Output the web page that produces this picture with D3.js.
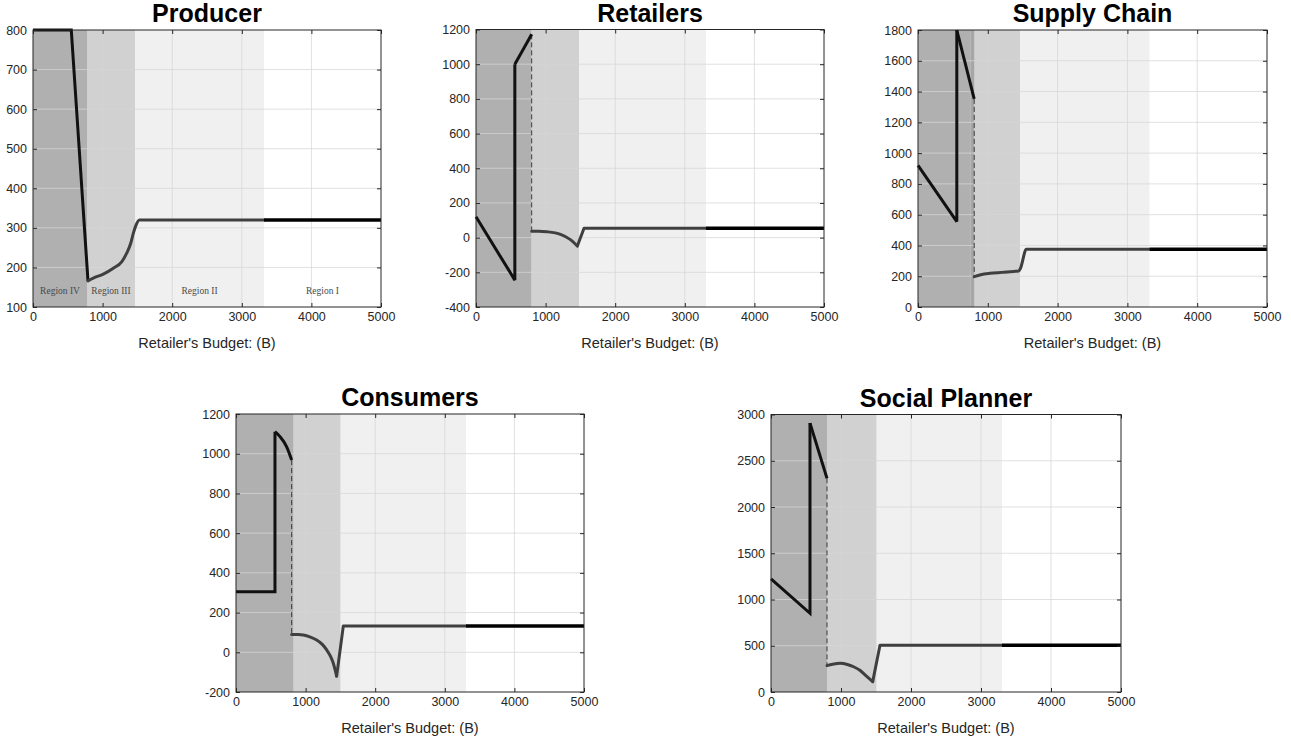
<!DOCTYPE html>
<html>
<head>
<meta charset="utf-8">
<script src="https://cdn.jsdelivr.net/npm/d3@7"></script>
<style>
  body { margin: 0; background: #ffffff; }
  svg { display: block; }
  text { font-family: "Liberation Sans", Arial, Helvetica, sans-serif; }
</style>
</head>
<body>
<svg id="chart" width="1291" height="740"></svg>
<script>
// ---------- shared axis data ----------
const budgetDomain = [0, 5000];
const budgetTicks = [0, 1000, 2000, 3000, 4000, 5000];
const regionNames = ["Region IV", "Region III", "Region II", "Region I"];
const xLabel = "Retailer's Budget: (B)";

// ---------- Producer ----------
const producerTicks = [100, 200, 300, 400, 500, 600, 700, 800];
const producerEdges = [776, 1466, 3319];
const producerIVBudget = [0, 550, 790];
const producerIVValue = [800, 800, 166];
const producerMidBudget = [790, 866, 1010, 1154, 1274, 1346, 1404, 1441, 1480, 1528, 3319];
const producerMidValue = [166, 173, 183, 198, 214, 236, 261, 286, 307, 320, 320];
const producerFinal = 320;

// ---------- Retailers ----------
const retailerTicks = [-400, -200, 0, 200, 400, 600, 800, 1000, 1200];
const retailerEdges = [800, 1480, 3305];
const retailerIVBudget = [0, 558, 558, 800];
const retailerIVValue = [120, -245, 1000, 1172];
const retailerMidBudget = [800, 900, 1016, 1214, 1351, 1456, 1552, 3305];
const retailerMidValue = [37, 37, 34, 19, -10, -48, 54, 54];
const retailerFinal = 54;

// ---------- Supply Chain ----------
const chainTicks = [0, 200, 400, 600, 800, 1000, 1200, 1400, 1600, 1800];
const chainEdges = [750, 1461, 3319];
const chainOverlap = [750, 805];
const chainIVBudget = [0, 556, 556, 805];
const chainIVValue = [920, 555, 1800, 1352];
const chainMidBudget = [805, 900, 1034, 1200, 1441, 1465, 1552, 3319];
const chainMidValue = [197, 210, 219, 225, 234, 248, 375, 375];
const chainFinal = 375;

// ---------- Consumers ----------
const consumerTicks = [-200, 0, 200, 400, 600, 800, 1000, 1200];
const consumerEdges = [829, 1504, 3305];
const consumerIVBudget = [0, 560, 560, 632, 728, 800];
const consumerIVValue = [305, 305, 1111, 1086, 1035, 968];
const consumerMidBudget = [800, 900, 967, 1060, 1159, 1240, 1303, 1360, 1398, 1446, 1542, 3305];
const consumerMidValue = [90, 90, 87, 78, 62, 40, 12, -22, -55, -120, 133, 133];
const consumerFinal = 133;

// ---------- Social Planner ----------
const plannerTicks = [0, 500, 1000, 1500, 2000, 2500, 3000];
const plannerEdges = [800, 1510, 3300];
const plannerIVBudget = [0, 557, 557, 800];
const plannerIVValue = [1222, 851, 2907, 2310];
const plannerMidBudget = [800, 880, 990, 1090, 1180, 1270, 1347, 1453, 1557, 3300];
const plannerMidValue = [285, 300, 310, 298, 273, 235, 183, 112, 505, 505];
const plannerFinal = 505;

// ---------- panel assembly ----------
const panels = [
  { title: "Producer", ticks: producerTicks, edges: producerEdges,
    ivB: producerIVBudget, ivV: producerIVValue, midB: producerMidBudget, midV: producerMidValue,
    final: producerFinal, labels: true, dashed: false },
  { title: "Retailers", ticks: retailerTicks, edges: retailerEdges,
    ivB: retailerIVBudget, ivV: retailerIVValue, midB: retailerMidBudget, midV: retailerMidValue,
    final: retailerFinal, dashed: true },
  { title: "Supply Chain", ticks: chainTicks, edges: chainEdges, overlap: chainOverlap,
    ivB: chainIVBudget, ivV: chainIVValue, midB: chainMidBudget, midV: chainMidValue,
    final: chainFinal, dashed: true },
  { title: "Consumers", ticks: consumerTicks, edges: consumerEdges,
    ivB: consumerIVBudget, ivV: consumerIVValue, midB: consumerMidBudget, midV: consumerMidValue,
    final: consumerFinal, dashed: true },
  { title: "Social Planner", ticks: plannerTicks, edges: plannerEdges,
    ivB: plannerIVBudget, ivV: plannerIVValue, midB: plannerMidBudget, midV: plannerMidValue,
    final: plannerFinal, dashed: true }
];

// axes frames on the page
const frames = [
  { left: 33,  top: 30,    width: 348, height: 277 },
  { left: 476, top: 29.5,  width: 348, height: 277.5 },
  { left: 918, top: 30,    width: 349, height: 277 },
  { left: 236, top: 414,   width: 348, height: 278 },
  { left: 771, top: 414.5, width: 350, height: 277.5 }
];

const regionFills = ["#b0b0b0", "#d1d1d1", "#f0f0f0", "#ffffff"];
const axisColor = "#262626";
const svg = d3.select("#chart");

panels.forEach((p, i) => {
  const f = frames[i];
  const g = svg.append("g").attr("transform", `translate(${f.left},${f.top})`);
  const x = d3.scaleLinear().domain(budgetDomain).range([0, f.width]);
  const y = d3.scaleLinear().domain(d3.extent(p.ticks)).range([f.height, 0]);

  // shaded regions
  const bounds = [budgetDomain[0], ...p.edges, budgetDomain[1]];
  regionFills.forEach((c, k) => {
    g.append("rect")
      .attr("x", x(bounds[k])).attr("y", 0)
      .attr("width", x(bounds[k + 1]) - x(bounds[k])).attr("height", f.height)
      .attr("fill", c);
  });
  if (p.overlap) {
    g.append("rect")
      .attr("x", x(p.overlap[0])).attr("y", 0)
      .attr("width", x(p.overlap[1]) - x(p.overlap[0])).attr("height", f.height)
      .attr("fill", "#a6a6a6");
  }

  // grid
  const grid = g.append("g").attr("stroke", "#d6d6d6").attr("stroke-opacity", 0.75).attr("stroke-width", 1);
  budgetTicks.slice(1, -1).forEach(t => {
    grid.append("line").attr("x1", x(t)).attr("x2", x(t)).attr("y1", 0).attr("y2", f.height);
  });
  p.ticks.slice(1, -1).forEach(t => {
    grid.append("line").attr("x1", 0).attr("x2", f.width).attr("y1", y(t)).attr("y2", y(t));
  });

  // region names
  if (p.labels) {
    regionNames.forEach((name, k) => {
      g.append("text")
        .attr("x", x((bounds[k] + bounds[k + 1]) / 2))
        .attr("y", y(138))
        .attr("text-anchor", "middle")
        .attr("dominant-baseline", "middle")
        .style("font-family", "'Liberation Serif', 'DejaVu Serif', serif")
        .style("font-size", "9.5px")
        .attr("fill", "#4a4a4a")
        .text(name);
    });
  }

  const straight = d3.line().x(d => x(d[0])).y(d => y(d[1]));
  const smooth = d3.line().x(d => x(d[0])).y(d => y(d[1])).curve(d3.curveMonotoneX);

  // dashed jump at the Region IV boundary
  if (p.dashed) {
    const bx = p.midB[0];
    g.append("line")
      .attr("x1", x(bx)).attr("x2", x(bx))
      .attr("y1", y(p.ivV[p.ivV.length - 1])).attr("y2", y(p.midV[0]))
      .attr("stroke", "#3a3a3a").attr("stroke-width", 1)
      .attr("stroke-dasharray", "5,3");
  }

  // Region IV branch: straight up to the vertical jump, smooth after it
  const ivPts = p.ivB.map((b, k) => [b, p.ivV[k]]);
  const jump = p.ivB.findIndex((b, k) => k > 0 && b === p.ivB[k - 1]);
  const ivParts = jump > 0
    ? [[ivPts.slice(0, jump + 1), straight], [ivPts.slice(jump), smooth]]
    : [[ivPts, straight]];
  ivParts.forEach(([pts, gen]) => {
    g.append("path")
      .datum(pts)
      .attr("d", gen).attr("fill", "none")
      .attr("stroke", "#111111").attr("stroke-width", 3)
      .attr("stroke-linejoin", "miter").attr("stroke-miterlimit", 2.5);
  });

  // Regions III and II branch: smooth descent to the kink, straight recovery after it
  const midPts = p.midB.map((b, k) => [b, p.midV[k]]);
  const kink = d3.minIndex(p.midV);
  const midParts = kink > 0 ? [[midPts.slice(0, kink + 1), smooth], [midPts.slice(kink), straight]] : [[midPts, smooth]];
  midParts.forEach(([pts, gen]) => {
    g.append("path")
      .datum(pts)
      .attr("d", gen).attr("fill", "none")
      .attr("stroke", "#3f3f3f").attr("stroke-width", 3)
      .attr("stroke-linecap", "round").attr("stroke-linejoin", "round");
  });

  // Region I branch
  g.append("path")
    .datum([[p.midB[p.midB.length - 1], p.final], [budgetDomain[1], p.final]])
    .attr("d", straight).attr("fill", "none")
    .attr("stroke", "#000000").attr("stroke-width", 3.5);

  // axes (ticks pointing inward on all four sides)
  const fmt = d => String(d);
  const bottom = g.append("g").attr("transform", `translate(0,${f.height})`)
    .call(d3.axisBottom(x).tickValues(budgetTicks).tickSizeInner(-4).tickSizeOuter(0).tickPadding(5).tickFormat(fmt));
  const left = g.append("g")
    .call(d3.axisLeft(y).tickValues(p.ticks).tickSizeInner(-4).tickSizeOuter(0).tickPadding(6).tickFormat(fmt));
  const top = g.append("g")
    .call(d3.axisTop(x).tickValues(budgetTicks).tickSizeInner(-4).tickSizeOuter(0).tickFormat(""));
  const right = g.append("g").attr("transform", `translate(${f.width},0)`)
    .call(d3.axisRight(y).tickValues(p.ticks).tickSizeInner(-4).tickSizeOuter(0).tickFormat(""));
  [bottom, left, top, right].forEach(a => {
    a.select(".domain").remove();
    a.selectAll("line").attr("stroke", axisColor);
    a.selectAll("text").attr("fill", axisColor).style("font-size", "12.5px")
      .style("font-family", "'Liberation Sans', Arial, Helvetica, sans-serif");
  });

  g.append("rect").attr("width", f.width).attr("height", f.height)
    .attr("fill", "none").attr("stroke", axisColor).attr("stroke-width", 1);

  // title and x label
  g.append("text")
    .attr("x", f.width / 2).attr("y", -8)
    .attr("text-anchor", "middle")
    .style("font-size", "25px").style("font-weight", "bold")
    .attr("fill", "#000000")
    .text(p.title);

  g.append("text")
    .attr("x", f.width / 2).attr("y", f.height + 41)
    .attr("text-anchor", "middle")
    .style("font-size", "14.5px")
    .attr("fill", axisColor)
    .text(xLabel);
});
</script>
</body>
</html>
